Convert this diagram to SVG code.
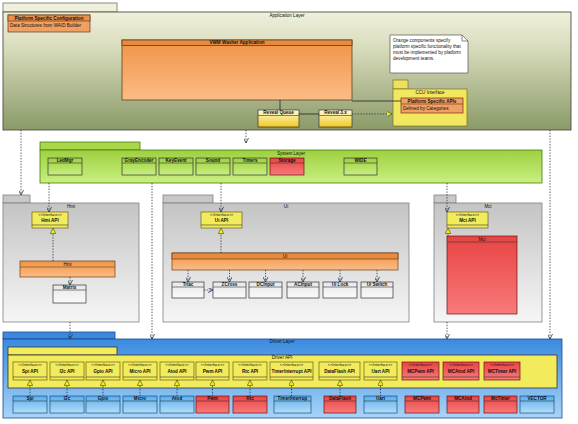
<svg xmlns="http://www.w3.org/2000/svg" width="578" height="424" viewBox="0 0 578 424">
<defs>
  <linearGradient id="gApp" x1="0" y1="0" x2="0" y2="1">
    <stop offset="0" stop-color="#f0f0dc"/><stop offset="0.3" stop-color="#d8dcbc"/><stop offset="1" stop-color="#8a9a68"/>
  </linearGradient>
  <linearGradient id="gOrange" x1="0" y1="0" x2="0" y2="1">
    <stop offset="0" stop-color="#f09446"/><stop offset="1" stop-color="#fbbc86"/>
  </linearGradient>
  <linearGradient id="gGreen" x1="0" y1="0" x2="0" y2="1">
    <stop offset="0" stop-color="#9ed040"/><stop offset="1" stop-color="#c8f080"/>
  </linearGradient>
  <linearGradient id="gGray" x1="0" y1="0" x2="0" y2="1">
    <stop offset="0" stop-color="#c4c4c4"/><stop offset="1" stop-color="#f6f6f6"/>
  </linearGradient>
  <linearGradient id="gBlue" x1="0" y1="0" x2="0" y2="1">
    <stop offset="0" stop-color="#3a8ae0"/><stop offset="1" stop-color="#a8d4f8"/>
  </linearGradient>
  <linearGradient id="gLBlue" x1="0" y1="0" x2="0" y2="1">
    <stop offset="0" stop-color="#5aaeec"/><stop offset="1" stop-color="#b4def8"/>
  </linearGradient>
  <linearGradient id="gRed" x1="0" y1="0" x2="0" y2="1">
    <stop offset="0" stop-color="#e84444"/><stop offset="1" stop-color="#f87a7a"/>
  </linearGradient>
  <linearGradient id="gReveal" x1="0" y1="0" x2="0" y2="1">
    <stop offset="0" stop-color="#fffbd8"/><stop offset="1" stop-color="#f0c820"/>
  </linearGradient>
  <linearGradient id="gBox" x1="0" y1="0" x2="0" y2="1">
    <stop offset="0" stop-color="#e8e8e8"/><stop offset="1" stop-color="#fafafa"/>
  </linearGradient>
  <marker id="open" viewBox="0 0 10 10" refX="10" refY="5" markerWidth="5" markerHeight="5" markerUnits="userSpaceOnUse" orient="auto">
    <path d="M0,0 L10,5 L0,10" fill="none" stroke="#223355" stroke-width="1.6"/>
  </marker>
  <marker id="real" viewBox="0 0 10 10" refX="10" refY="5" markerWidth="5.5" markerHeight="5.5" markerUnits="userSpaceOnUse" orient="auto">
    <path d="M0,0 L10,5 L0,10 z" fill="#f4f000" stroke="#333" stroke-width="1"/>
  </marker>
  <style>
    text { font-family: "Liberation Sans", Arial, sans-serif; font-size: 4.6px; fill: #111; }
    .c { text-anchor: middle; }
    .b { font-weight: bold; }
    .s { font-size: 3.8px; }
    .pkg { stroke: #808080; stroke-width: 0.8; }
    .cls { stroke: #333; stroke-width: 0.7; }
    .sep { stroke: #333; stroke-width: 0.6; }
    .iface { fill: #f2ec5c; stroke: #6a6010; stroke-width: 0.7; }
    .red { fill: url(#gRed); stroke: #6a1010; stroke-width: 0.7; }
    .drv { fill: url(#gLBlue); stroke: #1a4a80; stroke-width: 0.7; }
    .dot { fill: none; stroke: #333; stroke-width: 0.8; stroke-dasharray: 1.4 1.4; }
    .dotb { fill: none; stroke: #223355; stroke-width: 0.8; stroke-dasharray: 1.4 1.4; }
    .solid { fill: none; stroke: #222; stroke-width: 0.8; }
  </style>
</defs>
<rect width="578" height="424" fill="#ffffff"/>

<!-- Application layer -->
<g id="application-layer">
  <rect x="3" y="3" width="114" height="9" fill="#f0f0dc" stroke="#707060" stroke-width="0.8"/>
  <rect x="3" y="12" width="568" height="118" fill="url(#gApp)" stroke="#505040" stroke-width="0.9"/>
  <text class="c" x="287" y="17">Application Layer</text>
</g>
<g id="platform-config">
  <rect x="8" y="15" width="82" height="17" fill="#f0a060" stroke="#6a3810" stroke-width="0.7"/>
  <rect x="8" y="15" width="82" height="6" fill="#e89050" stroke="#6a3810" stroke-width="0.7"/>
  <text class="c b" x="49" y="19.8">Platform Specific Configuration</text>
  <text x="10" y="27">Data Structures from WAID Builder</text>
</g>
<g id="vwm-washer">
  <rect x="122" y="40" width="230" height="60" fill="url(#gOrange)" stroke="#6a4010" stroke-width="0.8"/>
  <rect x="122" y="40" width="230" height="5.5" fill="#e88a40" stroke="#6a4010" stroke-width="0.8"/>
  <text class="c b" x="237" y="44.3">VWM Washer Application</text>
</g>
<g id="reveal-queue">
  <rect x="258" y="110" width="41" height="17" fill="url(#gReveal)" class="cls"/>
  <line x1="258" y1="115.5" x2="299" y2="115.5" class="sep"/>
  <text class="c b" x="278.5" y="114.3">Reveal Queue</text>
</g>
<g id="reveal-3x">
  <rect x="319" y="110" width="33" height="17" fill="url(#gReveal)" class="cls"/>
  <line x1="319" y1="115.5" x2="352" y2="115.5" class="sep"/>
  <text class="c b" x="335.5" y="114.3">Reveal 3.x</text>
</g>
<g id="note">
  <path d="M390,35 L462,35 L468,41 L468,73 L390,73 Z" fill="#ffffff" stroke="#555" stroke-width="0.7"/>
  <path d="M462,35 L462,41 L468,41" fill="none" stroke="#555" stroke-width="0.7"/>
  <text x="393" y="41.5">Orange components specify</text>
  <text x="393" y="47.5">platform specific functionality that</text>
  <text x="393" y="53.5">must be implemented by platform</text>
  <text x="393" y="59.5">development teams.</text>
</g>
<g id="ccu-interface">
  <rect x="393" y="80" width="15" height="9" fill="#f0e060" stroke="#7a7020" stroke-width="0.7"/>
  <rect x="393" y="89" width="74" height="37" fill="#f2e860" stroke="#7a7020" stroke-width="0.7"/>
  <text class="c" x="430" y="93.5">CCU Interface</text>
  <rect x="401" y="98" width="62" height="15" fill="#f0a060" stroke="#6a3010" stroke-width="0.7"/>
  <line x1="401" y1="104" x2="463" y2="104" stroke="#6a3010" stroke-width="0.6"/>
  <text class="c b" x="432" y="102.6">Platform Specific APIs</text>
  <text x="403" y="109.6">Defined by Categories</text>
</g>

<!-- System layer -->
<g id="system-layer">
  <rect x="40" y="142" width="100" height="8" fill="#a8d848" stroke="#4a7a10" stroke-width="0.8"/>
  <rect x="40" y="150" width="502" height="33" fill="url(#gGreen)" stroke="#4a7a10" stroke-width="0.8"/>
  <text class="c" x="291" y="155">System Layer</text>
</g>
<g id="ledmgr"><rect x="48" y="158" width="34" height="17" fill="url(#gGreen)" class="cls"/><line x1="48" y1="163" x2="82" y2="163" class="sep"/><text class="c b" x="65" y="162">LedMgr</text></g>
<g id="grayencoder"><rect x="122" y="158" width="34" height="17" fill="url(#gGreen)" class="cls"/><line x1="122" y1="163" x2="156" y2="163" class="sep"/><text class="c b" x="139" y="162">GrayEncoder</text></g>
<g id="keyevent"><rect x="159" y="158" width="34" height="17" fill="url(#gGreen)" class="cls"/><line x1="159" y1="163" x2="193" y2="163" class="sep"/><text class="c b" x="176" y="162">KeyEvent</text></g>
<g id="sound"><rect x="196" y="158" width="34" height="17" fill="url(#gGreen)" class="cls"/><line x1="196" y1="163" x2="230" y2="163" class="sep"/><text class="c b" x="213" y="162">Sound</text></g>
<g id="timers"><rect x="233" y="158" width="34" height="17" fill="url(#gGreen)" class="cls"/><line x1="233" y1="163" x2="267" y2="163" class="sep"/><text class="c b" x="250" y="162">Timers</text></g>
<g id="storage"><rect x="270" y="158" width="34" height="17" class="red"/><line x1="270" y1="163" x2="304" y2="163" class="sep"/><text class="c b" x="287" y="162">Storage</text></g>
<g id="wide"><rect x="344" y="158" width="33" height="17" fill="url(#gGreen)" class="cls"/><line x1="344" y1="163" x2="377" y2="163" class="sep"/><text class="c b" x="360.5" y="162">WIDE</text></g>

<!-- Hmi package -->
<g id="hmi-package">
  <rect x="3" y="195" width="27" height="8" fill="#c8c8c8" class="pkg"/>
  <rect x="3" y="203" width="136" height="119" fill="url(#gGray)" class="pkg"/>
  <text class="c" x="71" y="207.5">Hmi</text>
</g>
<g id="hmi-api">
  <rect x="32" y="212" width="36" height="16" class="iface"/>
  <line x1="32" y1="225" x2="68" y2="225" class="sep"/>
  <text class="c s" x="50" y="216.3">&lt;&lt;Interface&gt;&gt;</text>
  <text class="c b" x="50" y="222.3">Hmi API</text>
</g>
<g id="hmi">
  <rect x="20" y="261" width="95" height="16" fill="url(#gOrange)" stroke="#6a4010" stroke-width="0.7"/>
  <line x1="20" y1="267" x2="115" y2="267" stroke="#6a4010" stroke-width="0.6"/>
  <text class="c" x="67.5" y="265.6">Hmi</text>
</g>
<g id="matrix">
  <rect x="53" y="285" width="33" height="18" fill="url(#gBox)" class="cls"/>
  <line x1="53" y1="290" x2="86" y2="290" class="sep"/>
  <text class="c b" x="69.5" y="289">Matrix</text>
</g>

<!-- Ui package -->
<g id="ui-package">
  <rect x="163" y="195" width="50" height="8" fill="#c8c8c8" class="pkg"/>
  <rect x="163" y="203" width="246" height="119" fill="url(#gGray)" class="pkg"/>
  <text class="c" x="286" y="207.5">Ui</text>
</g>
<g id="ui-api">
  <rect x="201" y="212" width="41" height="16" class="iface"/>
  <line x1="201" y1="225" x2="242" y2="225" class="sep"/>
  <text class="c s" x="221.5" y="216.3">&lt;&lt;Interface&gt;&gt;</text>
  <text class="c b" x="221.5" y="222.3">Ui API</text>
</g>
<g id="ui">
  <rect x="172" y="253" width="226" height="17" fill="url(#gOrange)" stroke="#6a4010" stroke-width="0.7"/>
  <rect x="172" y="253" width="226" height="6" fill="#e88a40" stroke="#6a4010" stroke-width="0.7"/>
  <text class="c" x="285" y="257.6">Ui</text>
</g>
<g id="triac"><rect x="172" y="282" width="32" height="16" fill="url(#gBox)" class="cls"/><line x1="172" y1="287" x2="204" y2="287" class="sep"/><text class="c b" x="188" y="286">Triac</text></g>
<g id="zcross"><rect x="213" y="282" width="33" height="16" fill="url(#gBox)" class="cls"/><line x1="213" y1="287" x2="246" y2="287" class="sep"/><text class="c b" x="229.5" y="286">ZCross</text></g>
<g id="dcinput"><rect x="249" y="282" width="33" height="16" fill="url(#gBox)" class="cls"/><line x1="249" y1="287" x2="282" y2="287" class="sep"/><text class="c b" x="265.5" y="286">DCInput</text></g>
<g id="acinput"><rect x="287" y="282" width="32" height="16" fill="url(#gBox)" class="cls"/><line x1="287" y1="287" x2="319" y2="287" class="sep"/><text class="c b" x="303" y="286">ACInput</text></g>
<g id="ui-lock"><rect x="323" y="282" width="34" height="16" fill="url(#gBox)" class="cls"/><line x1="323" y1="287" x2="357" y2="287" class="sep"/><text class="c b" x="340" y="286">Ui Lock</text></g>
<g id="ui-switch"><rect x="361" y="282" width="32" height="16" fill="url(#gBox)" class="cls"/><line x1="361" y1="287" x2="393" y2="287" class="sep"/><text class="c b" x="377" y="286">Ui Switch</text></g>

<!-- Mci package -->
<g id="mci-package">
  <rect x="434" y="195" width="22" height="8" fill="#c8c8c8" class="pkg"/>
  <rect x="434" y="203" width="108" height="119" fill="url(#gGray)" class="pkg"/>
  <text class="c" x="488" y="207.5">Mci</text>
</g>
<g id="mci-api">
  <rect x="447" y="212" width="41" height="16" class="iface"/>
  <line x1="447" y1="225" x2="488" y2="225" class="sep"/>
  <text class="c s" x="467.5" y="216.3">&lt;&lt;Interface&gt;&gt;</text>
  <text class="c b" x="467.5" y="222.3">Mci API</text>
</g>
<g id="mci">
  <rect x="447" y="236" width="70" height="78" class="red"/>
  <line x1="447" y1="242" x2="517" y2="242" class="sep"/>
  <text class="c" x="482" y="240.6">Mci</text>
</g>

<!-- Driver layer -->
<g id="driver-layer">
  <rect x="3" y="332" width="112" height="7" fill="#3a8ae0" stroke="#1a4a90" stroke-width="0.8"/>
  <rect x="3" y="339" width="559" height="79" fill="url(#gBlue)" stroke="#1a4a90" stroke-width="0.8"/>
  <text class="c" x="282" y="343.3">Driver Layer</text>
</g>
<g id="driver-api">
  <rect x="8" y="347" width="109" height="8" fill="#f2ec5c" stroke="#333" stroke-width="0.8"/>
  <rect x="8" y="355" width="549" height="33" fill="#f2ec5c" stroke="#333" stroke-width="0.8"/>
  <text class="c" x="282" y="359.3">Driver API</text>
</g>
<g id="spi-api"><rect x="13" y="362" width="34" height="18" class="iface"/><line x1="13" y1="377" x2="47" y2="377" class="sep"/><text class="c s" x="30" y="366.2">&lt;&lt;Interface&gt;&gt;</text><text class="c b" x="30" y="373">Spi API</text></g>
<g id="i2c-api"><rect x="50" y="362" width="34" height="18" class="iface"/><line x1="50" y1="377" x2="84" y2="377" class="sep"/><text class="c s" x="67" y="366.2">&lt;&lt;Interface&gt;&gt;</text><text class="c b" x="67" y="373">I2c API</text></g>
<g id="gpio-api"><rect x="86" y="362" width="34" height="18" class="iface"/><line x1="86" y1="377" x2="120" y2="377" class="sep"/><text class="c s" x="103" y="366.2">&lt;&lt;Interface&gt;&gt;</text><text class="c b" x="103" y="373">Gpio API</text></g>
<g id="micro-api"><rect x="123" y="362" width="34" height="18" class="iface"/><line x1="123" y1="377" x2="157" y2="377" class="sep"/><text class="c s" x="140" y="366.2">&lt;&lt;Interface&gt;&gt;</text><text class="c b" x="140" y="373">Micro API</text></g>
<g id="atod-api"><rect x="160" y="362" width="34" height="18" class="iface"/><line x1="160" y1="377" x2="194" y2="377" class="sep"/><text class="c s" x="177" y="366.2">&lt;&lt;Interface&gt;&gt;</text><text class="c b" x="177" y="373">Atod API</text></g>
<g id="pwm-api"><rect x="196" y="362" width="33" height="18" class="iface"/><line x1="196" y1="377" x2="229" y2="377" class="sep"/><text class="c s" x="212.5" y="366.2">&lt;&lt;Interface&gt;&gt;</text><text class="c b" x="212.5" y="373">Pwm API</text></g>
<g id="rtc-api"><rect x="233" y="362" width="34" height="18" class="iface"/><line x1="233" y1="377" x2="267" y2="377" class="sep"/><text class="c s" x="250" y="366.2">&lt;&lt;Interface&gt;&gt;</text><text class="c b" x="250" y="373">Rtc API</text></g>
<g id="timerinterrupt-api"><rect x="270" y="362" width="43" height="18" class="iface"/><line x1="270" y1="377" x2="313" y2="377" class="sep"/><text class="c s" x="291.5" y="366.2">&lt;&lt;Interface&gt;&gt;</text><text class="c b" x="291.5" y="373">TimerInterrupt API</text></g>
<g id="dataflash-api"><rect x="319" y="362" width="41" height="18" class="iface"/><line x1="319" y1="377" x2="360" y2="377" class="sep"/><text class="c s" x="339.5" y="366.2">&lt;&lt;Interface&gt;&gt;</text><text class="c b" x="339.5" y="373">DataFlash API</text></g>
<g id="uart-api"><rect x="364" y="362" width="33" height="18" class="iface"/><line x1="364" y1="377" x2="397" y2="377" class="sep"/><text class="c s" x="380.5" y="366.2">&lt;&lt;Interface&gt;&gt;</text><text class="c b" x="380.5" y="373">Uart API</text></g>
<g id="mcpwm-api"><rect x="402" y="362" width="37" height="18" class="red"/><line x1="402" y1="377" x2="439" y2="377" class="sep"/><text class="c s" x="420.5" y="366.2">&lt;&lt;Interface&gt;&gt;</text><text class="c b" x="420.5" y="373">MCPwm API</text></g>
<g id="mcatod-api"><rect x="443" y="362" width="36" height="18" class="red"/><line x1="443" y1="377" x2="479" y2="377" class="sep"/><text class="c s" x="461" y="366.2">&lt;&lt;Interface&gt;&gt;</text><text class="c b" x="461" y="373">MCAtod API</text></g>
<g id="mctimer-api"><rect x="484" y="362" width="36" height="18" class="red"/><line x1="484" y1="377" x2="520" y2="377" class="sep"/><text class="c s" x="502" y="366.2">&lt;&lt;Interface&gt;&gt;</text><text class="c b" x="502" y="373">MCTimer API</text></g>

<g id="spi"><rect x="13" y="396" width="34" height="17" class="drv"/><line x1="13" y1="401" x2="47" y2="401" class="sep"/><text class="c b" x="30" y="400">Spi</text></g>
<g id="i2c"><rect x="50" y="396" width="34" height="17" class="drv"/><line x1="50" y1="401" x2="84" y2="401" class="sep"/><text class="c b" x="67" y="400">I2c</text></g>
<g id="gpio"><rect x="86" y="396" width="34" height="17" class="drv"/><line x1="86" y1="401" x2="120" y2="401" class="sep"/><text class="c b" x="103" y="400">Gpio</text></g>
<g id="micro"><rect x="123" y="396" width="34" height="17" class="drv"/><line x1="123" y1="401" x2="157" y2="401" class="sep"/><text class="c b" x="140" y="400">Micro</text></g>
<g id="atod"><rect x="160" y="396" width="34" height="17" class="drv"/><line x1="160" y1="401" x2="194" y2="401" class="sep"/><text class="c b" x="177" y="400">Atod</text></g>
<g id="pwm"><rect x="196" y="396" width="33" height="17" class="red"/><line x1="196" y1="401" x2="229" y2="401" class="sep"/><text class="c b" x="212.5" y="400">Pwm</text></g>
<g id="rtc"><rect x="233" y="396" width="34" height="17" class="red"/><line x1="233" y1="401" x2="267" y2="401" class="sep"/><text class="c b" x="250" y="400">Rtc</text></g>
<g id="timerinterrup"><rect x="274" y="396" width="37" height="17" class="drv"/><line x1="274" y1="401" x2="311" y2="401" class="sep"/><text class="c b" x="292.5" y="400">TimerInterrup</text></g>
<g id="dataflash"><rect x="324" y="396" width="32" height="17" class="red"/><line x1="324" y1="401" x2="356" y2="401" class="sep"/><text class="c b" x="340" y="400">DataFlash</text></g>
<g id="uart"><rect x="364" y="396" width="33" height="17" class="drv"/><line x1="364" y1="401" x2="397" y2="401" class="sep"/><text class="c b" x="380.5" y="400">Uart</text></g>
<g id="mcpwm"><rect x="405" y="396" width="34" height="17" class="red"/><line x1="405" y1="401" x2="439" y2="401" class="sep"/><text class="c b" x="422" y="400">MCPwm</text></g>
<g id="mcatod"><rect x="447" y="396" width="32" height="17" class="red"/><line x1="447" y1="401" x2="479" y2="401" class="sep"/><text class="c b" x="463" y="400">MCAtod</text></g>
<g id="mctimer"><rect x="484" y="396" width="33" height="17" class="red"/><line x1="484" y1="401" x2="517" y2="401" class="sep"/><text class="c b" x="500.5" y="400">McTimer</text></g>
<g id="vector"><rect x="520" y="396" width="34" height="17" class="drv"/><line x1="520" y1="401" x2="554" y2="401" class="sep"/><text class="c b" x="537" y="400">VECTOR</text></g>

<!-- Connectors -->
<g id="connectors">
  <!-- application layer internals -->
  <path class="solid" d="M280,100 V110"/>
  <path class="solid" d="M299,114 H319"/>
  <path class="solid" d="M352,101 H401"/>
  <path class="dot" d="M352,114 H392" marker-end="url(#real)"/>
  <!-- layer dependencies -->
  <path class="dot" d="M21,130 V195" marker-end="url(#open)"/>
  <path class="dot" d="M246,130 V143" marker-end="url(#open)"/>
  <path class="dot" d="M550,130 V339" marker-end="url(#open)"/>
  <path class="dot" d="M49,183 V212" marker-end="url(#open)"/>
  <path class="dot" d="M152,183 V339" marker-end="url(#open)"/>
  <path class="dot" d="M221,183 V212" marker-end="url(#open)"/>
  <path class="dot" d="M447,183 V212" marker-end="url(#open)"/>
  <path class="dot" d="M70,322 V339" marker-end="url(#open)"/>
  <path class="dot" d="M447,322 V339" marker-end="url(#open)"/>
  <!-- Hmi -->
  <path class="dot" d="M53,261 V228" marker-end="url(#real)"/>
  <path class="dot" d="M70,277 V285" marker-end="url(#open)"/>
  <!-- Ui -->
  <path class="dot" d="M221,253 V228" marker-end="url(#real)"/>
  <path class="dot" d="M188,270 V282" marker-end="url(#open)"/>
  <path class="dot" d="M229.5,270 V282" marker-end="url(#open)"/>
  <path class="dot" d="M265.5,270 V282" marker-end="url(#open)"/>
  <path class="dot" d="M303,270 V282" marker-end="url(#open)"/>
  <path class="dot" d="M340,270 V282" marker-end="url(#open)"/>
  <path class="dot" d="M377,270 V282" marker-end="url(#open)"/>
  <path class="dot" d="M204,290 H213" marker-end="url(#open)"/>
  <!-- Mci -->
  <path class="dot" d="M448,236 V228" marker-end="url(#real)"/>
  <!-- driver realizations -->
  <path class="dotb" d="M30,396 V380" marker-end="url(#real)"/>
  <path class="dotb" d="M67,396 V380" marker-end="url(#real)"/>
  <path class="dotb" d="M103,396 V380" marker-end="url(#real)"/>
  <path class="dotb" d="M140,396 V380" marker-end="url(#real)"/>
  <path class="dotb" d="M177,396 V380" marker-end="url(#real)"/>
  <path class="dotb" d="M212.5,396 V380" marker-end="url(#real)"/>
  <path class="dotb" d="M250,396 V380" marker-end="url(#real)"/>
  <path class="dotb" d="M291.5,396 V380" marker-end="url(#real)"/>
  <path class="dotb" d="M340,396 V380" marker-end="url(#real)"/>
  <path class="dotb" d="M380.5,396 V380" marker-end="url(#real)"/>
</g>
</svg>
